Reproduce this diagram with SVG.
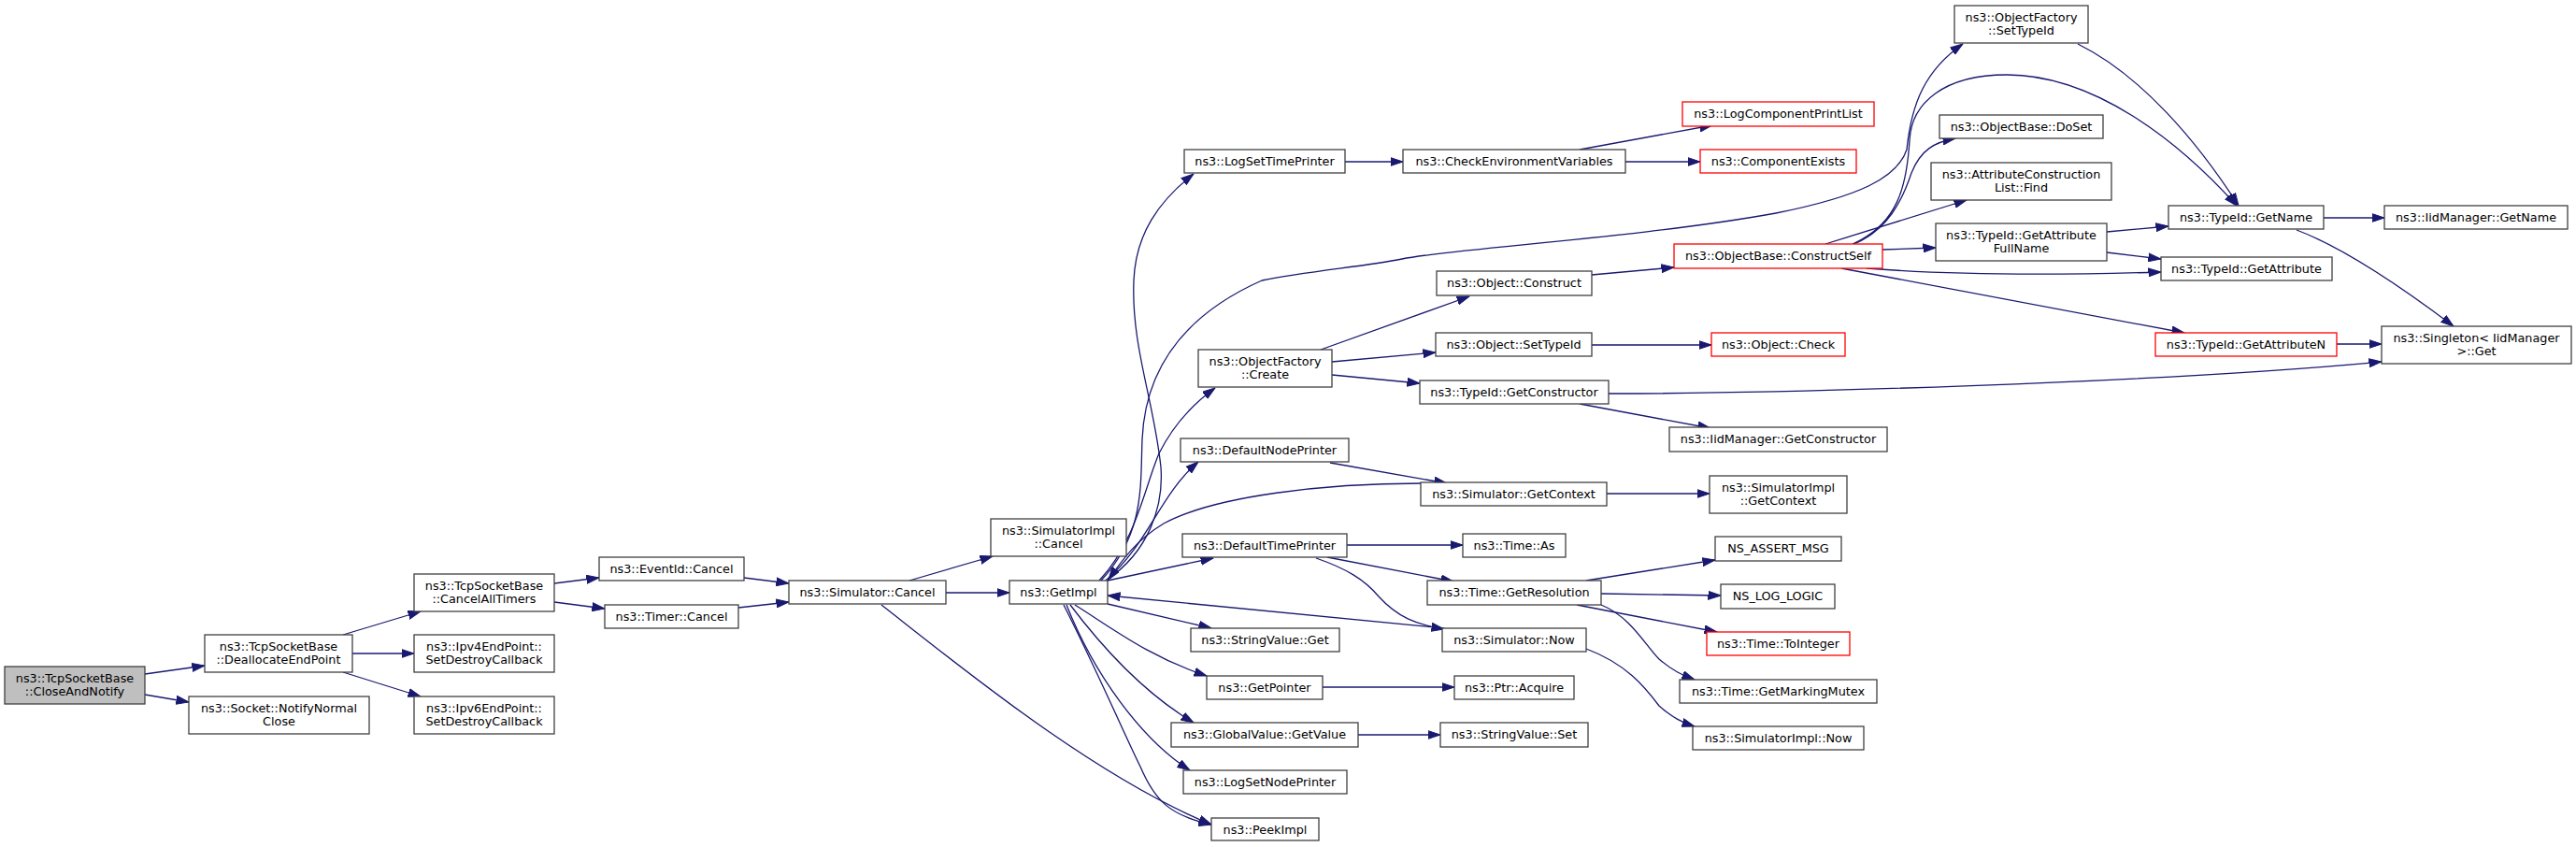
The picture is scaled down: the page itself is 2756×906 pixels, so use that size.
<svg xmlns="http://www.w3.org/2000/svg" width="2756" height="906" viewBox="0 0 2756 906">
<style>
.n rect{fill:#ffffff;stroke:#404040;stroke-width:1.3}
.n.r rect{stroke:#ff0000}
.n.h rect{fill:#bfbfbf}
.n text{font-family:"DejaVu Sans","Liberation Sans",sans-serif;font-size:12.8px;fill:#000;text-anchor:middle}
.e path{fill:none;stroke:#191970;stroke-width:1.3;marker-end:url(#ah)}
</style>
<defs>
<marker id="ah" viewBox="0 0 14 10" refX="13.5" refY="5" markerWidth="14" markerHeight="10" markerUnits="userSpaceOnUse" orient="auto">
<path d="M0,0.5 L13.5,5 L0,9.5 z" fill="#191970" stroke="#191970" stroke-width="1"/>
</marker>
</defs>
<rect width="2756" height="906" fill="#ffffff"/>
<g id="edges" class="e">
<path d="M155,721 L219,712"/>
<path d="M155,743 L202,751"/>
<path d="M367,679 L450,654"/>
<path d="M377,699 L443,699"/>
<path d="M367,719 L450,745"/>
<path d="M593,624 L641,618"/>
<path d="M593,644 L647,651"/>
<path d="M796,618 L844,624"/>
<path d="M790,650 L844,644"/>
<path d="M973,621 L1062,595"/>
<path d="M1012,634 L1080,634"/>
<path d="M943,647 C1030,715 1170,830 1296,882"/>
<path d="M1138,647 C1175,720 1205,790 1220,820 C1235,855 1250,872 1296,882"/>
<path d="M1185,646 L1296,672"/>
<path d="M1150,647 C1190,672 1230,703 1291,723"/>
<path d="M1145,647 C1185,700 1230,745 1277,773"/>
<path d="M1141,647 C1170,720 1220,790 1273,824"/>
<path d="M1185,621 L1298,597"/>
<path d="M1183,621 C1230,590 1245,540 1242,500 C1235,430 1210,370 1213,300 C1215,250 1240,215 1277,186"/>
<path d="M1178,621 C1225,570 1220,520 1222,470 C1225,400 1260,340 1350,300 C1400,290 1460,285 1500,277 C1560,265 1750,255 1900,228 C1990,210 2030,190 2040,160 C2045,110 2060,75 2100,47"/>
<path d="M1176,621 C1215,580 1225,520 1240,485 C1255,455 1275,433 1300,415"/>
<path d="M1183,621 C1230,580 1240,530 1282,494"/>
<path d="M1520,517 C1420,517 1300,530 1245,560 C1215,578 1200,600 1186,620"/>
<path d="M1545,672 L1185,637"/>
<path d="M1441,583 L1565,583"/>
<path d="M1420,596 L1555,622"/>
<path d="M1408,597 C1440,608 1460,620 1475,638 C1495,660 1515,668 1545,673"/>
<path d="M1423,495 L1548,517"/>
<path d="M1439,173 L1501,173"/>
<path d="M1690,160 L1832,134"/>
<path d="M1739,173 L1819,173"/>
<path d="M1413,374 L1572,317"/>
<path d="M1425,387 L1536,377"/>
<path d="M1425,401 L1519,410"/>
<path d="M1703,294 L1791,286"/>
<path d="M1703,369 L1831,369"/>
<path d="M1690,432 L1830,458"/>
<path d="M1721,421 C1900,421 2300,410 2548,387"/>
<path d="M1719,528 L1829,528"/>
<path d="M1697,621 L1835,599"/>
<path d="M1713,635 L1841,637"/>
<path d="M1687,647 L1837,676"/>
<path d="M1713,647 C1745,660 1760,690 1775,705 C1790,718 1800,722 1813,727"/>
<path d="M1697,694 C1740,710 1760,735 1775,755 C1790,768 1800,773 1813,777"/>
<path d="M1415,735 L1556,735"/>
<path d="M1453,786 L1541,786"/>
<path d="M1982,261 C2030,240 2040,200 2043,150 C2045,110 2080,80 2147,80 C2240,80 2330,150 2393,220"/>
<path d="M1984,261 C2020,245 2035,215 2045,185 C2055,160 2070,152 2092,148"/>
<path d="M1953,261 L2104,214"/>
<path d="M2014,267 L2071,265"/>
<path d="M1997,287 C2060,292 2150,296 2312,291"/>
<path d="M1970,287 L2337,356"/>
<path d="M2254,248 L2320,242"/>
<path d="M2254,270 L2312,277"/>
<path d="M2486,233 L2551,233"/>
<path d="M2457,246 C2500,262 2560,300 2625,349"/>
<path d="M2500,368 L2548,368"/>
<path d="M2223,47 C2290,80 2350,150 2395,220"/>
</g>
<g id="n_close" class="n h"><rect x="5" y="713" width="150" height="40"/><text x="80" y="729.5">ns3::TcpSocketBase</text><text x="80" y="743.5">::CloseAndNotify</text></g>
<g id="n_dealloc" class="n"><rect x="219" y="679" width="158" height="40"/><text x="298" y="695.5">ns3::TcpSocketBase</text><text x="298" y="709.5">::DeallocateEndPoint</text></g>
<g id="n_notify" class="n"><rect x="202" y="745" width="193" height="40"/><text x="298.5" y="761.5">ns3::Socket::NotifyNormal</text><text x="298.5" y="775.5">Close</text></g>
<g id="n_cancelall" class="n"><rect x="443" y="614" width="150" height="40"/><text x="518" y="630.5">ns3::TcpSocketBase</text><text x="518" y="644.5">::CancelAllTimers</text></g>
<g id="n_ipv4" class="n"><rect x="443" y="679" width="150" height="40"/><text x="518" y="695.5">ns3::Ipv4EndPoint::</text><text x="518" y="709.5">SetDestroyCallback</text></g>
<g id="n_ipv6" class="n"><rect x="443" y="745" width="150" height="40"/><text x="518" y="761.5">ns3::Ipv6EndPoint::</text><text x="518" y="775.5">SetDestroyCallback</text></g>
<g id="n_eventid" class="n"><rect x="641" y="596" width="155" height="25"/><text x="718.5" y="612.7">ns3::EventId::Cancel</text></g>
<g id="n_timer" class="n"><rect x="647" y="647" width="143" height="25"/><text x="718.5" y="663.7">ns3::Timer::Cancel</text></g>
<g id="n_simcancel" class="n"><rect x="844" y="621" width="168" height="25"/><text x="928" y="637.7">ns3::Simulator::Cancel</text></g>
<g id="n_simimplcancel" class="n"><rect x="1060" y="555" width="145" height="40"/><text x="1132.5" y="571.5">ns3::SimulatorImpl</text><text x="1132.5" y="585.5">::Cancel</text></g>
<g id="n_getimpl" class="n"><rect x="1080" y="621" width="105" height="25"/><text x="1132.5" y="637.7">ns3::GetImpl</text></g>
<g id="n_logsettime" class="n"><rect x="1267" y="160" width="172" height="25"/><text x="1353" y="176.7">ns3::LogSetTimePrinter</text></g>
<g id="n_ofcreate" class="n"><rect x="1282" y="374" width="143" height="40"/><text x="1353.5" y="390.5">ns3::ObjectFactory</text><text x="1353.5" y="404.5">::Create</text></g>
<g id="n_defnode" class="n"><rect x="1263" y="469" width="180" height="25"/><text x="1353" y="485.7">ns3::DefaultNodePrinter</text></g>
<g id="n_deftime" class="n"><rect x="1265" y="571" width="176" height="25"/><text x="1353" y="587.7">ns3::DefaultTimePrinter</text></g>
<g id="n_svget" class="n"><rect x="1274" y="672" width="159" height="25"/><text x="1353.5" y="688.7">ns3::StringValue::Get</text></g>
<g id="n_getptr" class="n"><rect x="1291" y="723" width="124" height="25"/><text x="1353" y="739.7">ns3::GetPointer</text></g>
<g id="n_gvget" class="n"><rect x="1253" y="773" width="200" height="26"/><text x="1353" y="790">ns3::GlobalValue::GetValue</text></g>
<g id="n_logsetnode" class="n"><rect x="1266" y="824" width="175" height="25"/><text x="1353.5" y="840.7">ns3::LogSetNodePrinter</text></g>
<g id="n_peek" class="n"><rect x="1296" y="875" width="115" height="24"/><text x="1353.5" y="891.5">ns3::PeekImpl</text></g>
<g id="n_checkenv" class="n"><rect x="1501" y="160" width="238" height="25"/><text x="1620" y="176.7">ns3::CheckEnvironmentVariables</text></g>
<g id="n_objconstruct" class="n"><rect x="1537" y="290" width="166" height="26"/><text x="1620" y="307">ns3::Object::Construct</text></g>
<g id="n_objsettype" class="n"><rect x="1536" y="356" width="167" height="25"/><text x="1619.5" y="372.7">ns3::Object::SetTypeId</text></g>
<g id="n_getctor" class="n"><rect x="1519" y="407" width="202" height="25"/><text x="1620" y="423.7">ns3::TypeId::GetConstructor</text></g>
<g id="n_simgetctx" class="n"><rect x="1520" y="516" width="199" height="25"/><text x="1619.5" y="532.7">ns3::Simulator::GetContext</text></g>
<g id="n_timeas" class="n"><rect x="1565" y="571" width="110" height="25"/><text x="1620" y="587.7">ns3::Time::As</text></g>
<g id="n_getres" class="n"><rect x="1527" y="621" width="186" height="26"/><text x="1620" y="637.7">ns3::Time::GetResolution</text></g>
<g id="n_simnow" class="n"><rect x="1543" y="672" width="154" height="25"/><text x="1620" y="688.7">ns3::Simulator::Now</text></g>
<g id="n_ptracq" class="n"><rect x="1556" y="723" width="128" height="25"/><text x="1620" y="739.7">ns3::Ptr::Acquire</text></g>
<g id="n_svset" class="n"><rect x="1541" y="773" width="158" height="26"/><text x="1620" y="790">ns3::StringValue::Set</text></g>
<g id="n_logcomp" class="n r"><rect x="1800" y="109" width="205" height="26"/><text x="1902.5" y="126">ns3::LogComponentPrintList</text></g>
<g id="n_compexists" class="n r"><rect x="1819" y="160" width="167" height="25"/><text x="1902.5" y="176.7">ns3::ComponentExists</text></g>
<g id="n_constructself" class="n r"><rect x="1791" y="261" width="223" height="26"/><text x="1902.5" y="278">ns3::ObjectBase::ConstructSelf</text></g>
<g id="n_objcheck" class="n r"><rect x="1831" y="356" width="143" height="25"/><text x="1902.5" y="372.7">ns3::Object::Check</text></g>
<g id="n_iidgetctor" class="n"><rect x="1786" y="457" width="233" height="26"/><text x="1902.5" y="474">ns3::IidManager::GetConstructor</text></g>
<g id="n_simimplgetctx" class="n"><rect x="1829" y="509" width="147" height="40"/><text x="1902.5" y="525.5">ns3::SimulatorImpl</text><text x="1902.5" y="539.5">::GetContext</text></g>
<g id="n_assert" class="n"><rect x="1835" y="574" width="135" height="26"/><text x="1902.5" y="591">NS_ASSERT_MSG</text></g>
<g id="n_loglogic" class="n"><rect x="1841" y="625" width="122" height="26"/><text x="1902" y="642">NS_LOG_LOGIC</text></g>
<g id="n_toint" class="n r"><rect x="1826" y="676" width="153" height="25"/><text x="1902.5" y="692.7">ns3::Time::ToInteger</text></g>
<g id="n_marking" class="n"><rect x="1797" y="727" width="211" height="25"/><text x="1902.5" y="743.7">ns3::Time::GetMarkingMutex</text></g>
<g id="n_simimplnow" class="n"><rect x="1811" y="777" width="183" height="25"/><text x="1902.5" y="793.7">ns3::SimulatorImpl::Now</text></g>
<g id="n_ofsettype" class="n"><rect x="2091" y="6" width="143" height="40"/><text x="2162.5" y="22.5">ns3::ObjectFactory</text><text x="2162.5" y="36.5">::SetTypeId</text></g>
<g id="n_doset" class="n"><rect x="2075" y="123" width="175" height="25"/><text x="2162.5" y="139.7">ns3::ObjectBase::DoSet</text></g>
<g id="n_acfind" class="n"><rect x="2066" y="174" width="193" height="40"/><text x="2162.5" y="190.5">ns3::AttributeConstruction</text><text x="2162.5" y="204.5">List::Find</text></g>
<g id="n_getattrfull" class="n"><rect x="2071" y="239" width="183" height="40"/><text x="2162.5" y="255.5">ns3::TypeId::GetAttribute</text><text x="2162.5" y="269.5">FullName</text></g>
<g id="n_getname" class="n"><rect x="2320" y="220" width="166" height="25"/><text x="2403" y="236.7">ns3::TypeId::GetName</text></g>
<g id="n_getattr" class="n"><rect x="2312" y="275" width="183" height="25"/><text x="2403.5" y="291.7">ns3::TypeId::GetAttribute</text></g>
<g id="n_getattrn" class="n r"><rect x="2306" y="356" width="194" height="25"/><text x="2403" y="372.7">ns3::TypeId::GetAttributeN</text></g>
<g id="n_iidgetname" class="n"><rect x="2551" y="220" width="196" height="25"/><text x="2649" y="236.7">ns3::IidManager::GetName</text></g>
<g id="n_singleton" class="n"><rect x="2548" y="349" width="203" height="40"/><text x="2649.5" y="365.5">ns3::Singleton&lt; IidManager</text><text x="2649.5" y="379.5">&gt;::Get</text></g>
</svg>
